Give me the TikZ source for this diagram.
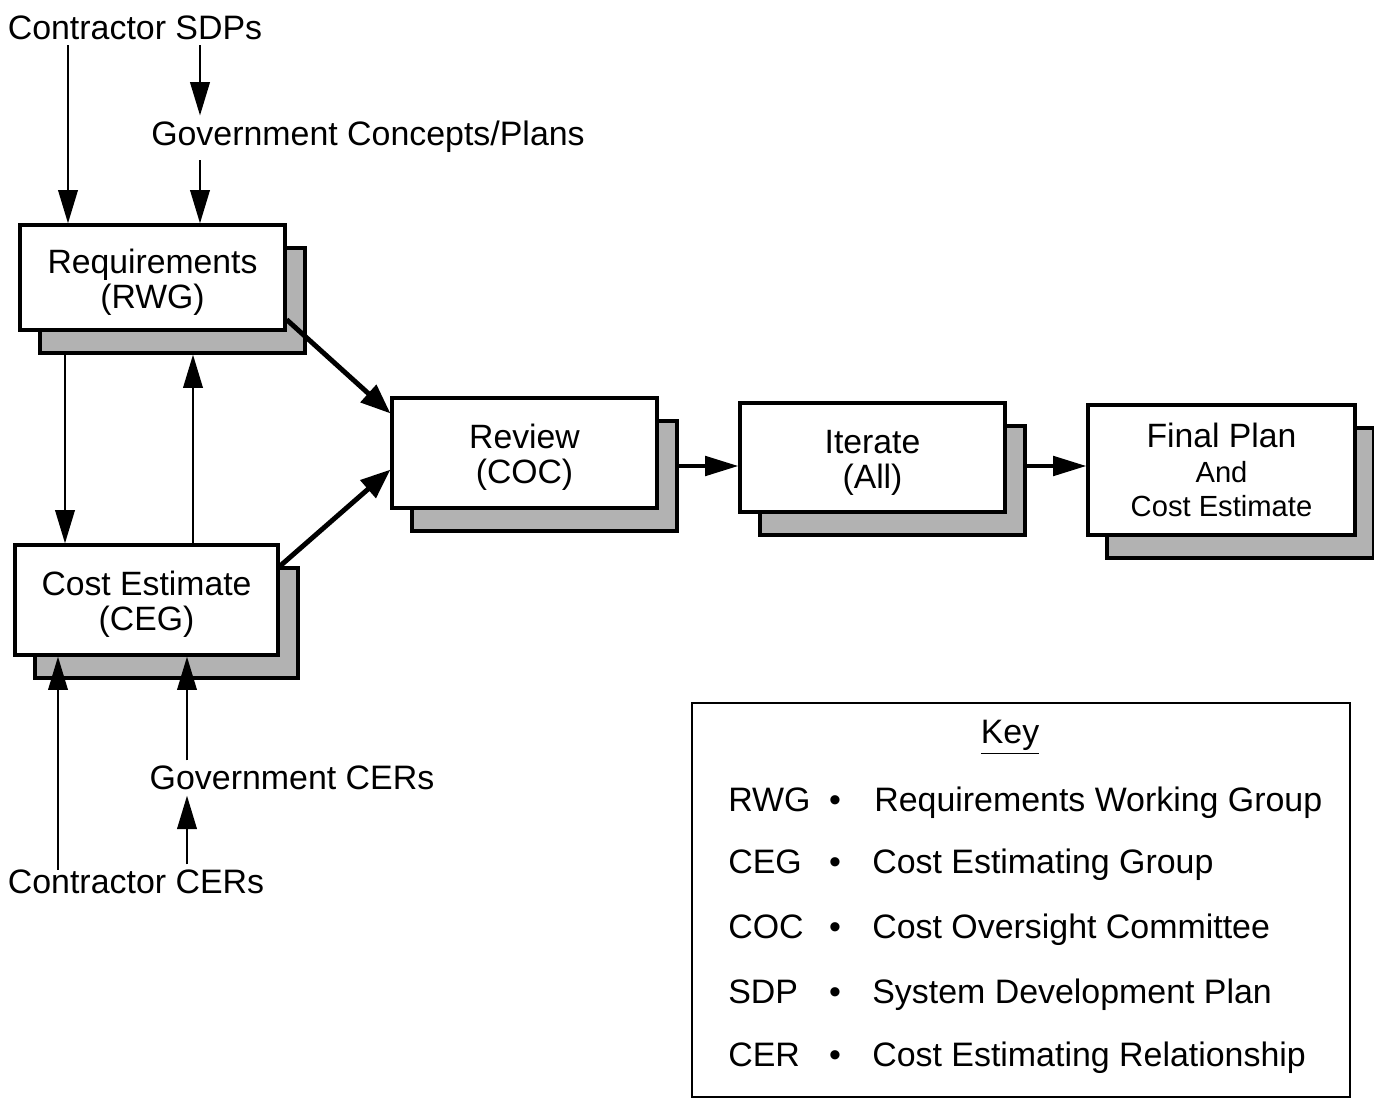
\documentclass[tikz,border=0pt]{standalone}
\usepackage{fontspec}
\setmainfont{Liberation Sans}
\usetikzlibrary{arrows.meta}
\newcommand{\tstrut}{\rule{0pt}{19pt}}
\begin{document}
\begin{tikzpicture}[x=0.02cm, y=-0.02cm,
  box/.style={draw=black, line width=1.8pt, fill=white, inner sep=0pt, align=center,
    font=\fontsize{19.2}{20}\selectfont},
  shade/.style={draw=black, line width=1.8pt, fill=gray!60, inner sep=0pt},
  lbl/.style={font=\fontsize{19.3}{20}\selectfont, inner sep=0pt},
  arr/.style={line width=1.6pt, -{Triangle[length=19pt,width=11pt]}},
  thickarr/.style={line width=2.8pt, -{Triangle[length=17pt,width=13pt]}}
]
\useasboundingbox (0,0) rectangle (1374,1099);

% shadows
\node[shade, minimum width=5.3cm, minimum height=2.1cm] (reqsh) at (172.5,300.5) {};
\node[shade, minimum width=5.26cm, minimum height=2.2cm] (cegsh) at (166.5,623) {};
\node[shade, minimum width=5.3cm, minimum height=2.2cm] (revsh) at (544.5,476) {};
\node[shade, minimum width=5.3cm, minimum height=2.18cm] (itrsh) at (892.5,480.5) {};
\node[shade, minimum width=5.34cm, minimum height=2.6cm] (finsh) at (1240.5,493) {};

% boxes
\node[box, minimum width=5.3cm, minimum height=2.1cm] (req) at (152.5,277.5) {\tstrut Requirements\\(RWG)};
\node[box, minimum width=5.26cm, minimum height=2.2cm] (ceg) at (146.5,600) {\tstrut Cost Estimate\\(CEG)};
\node[box, minimum width=5.3cm, minimum height=2.2cm] (rev) at (524.5,453) {\tstrut Review\\(COC)};
\node[box, minimum width=5.3cm, minimum height=2.18cm] (itr) at (872.5,457.5) {\tstrut Iterate\\(All)};
\node[box, minimum width=5.34cm, minimum height=2.6cm] (fin) at (1221.5,470)
  {Final Plan\\{\fontsize{16.6}{18}\selectfont And}\\[-1pt]{\fontsize{16.6}{18}\selectfont Cost Estimate}};

% labels
\node[lbl] (csdp) at (135,28) {Contractor SDPs};
\node[lbl] (gcp) at (368,137) {Government Concepts/Plans};
\node[lbl] (gcer) at (292,778) {Government CERs};
\node[lbl] (ccer) at (136,882) {Contractor CERs};

% helper coordinates
\coordinate (xa) at (68,0);
\coordinate (xb) at (200,0);
\coordinate (xc) at (65,0);
\coordinate (xd) at (193,0);
\coordinate (xe) at (58,0);
\coordinate (xf) at (187,0);
\coordinate (ya) at (0,466);

% arrows
\draw[arr] ([yshift=-0.1cm]csdp.south -| xa) -- (req.north -| xa);
\draw[arr, shorten >=3pt] ([yshift=-0.1cm]csdp.south -| xb) -- (gcp.north -| xb);
\draw[arr, shorten <=4pt] (gcp.south -| xb) -- (req.north -| xb);
\draw[arr] (reqsh.south -| xc) -- (ceg.north -| xc);
\draw[arr] (ceg.north -| xd) -- (reqsh.south -| xd);
\draw[thickarr] ([yshift=0.24cm]req.south east) -- ([yshift=-0.34cm]rev.north west);
\draw[thickarr] ([yshift=-0.46cm]ceg.north east) -- ([yshift=0.8cm]rev.south west);
\draw[arr, line width=2.4pt] (revsh.east |- ya) -- (itr.west |- ya);
\draw[arr, line width=2.4pt] (itrsh.east |- ya) -- (fin.west |- ya);
\draw[arr] (ccer.north -| xe) -- (ceg.south -| xe);
\draw[arr, shorten <=3pt] (gcer.north -| xf) -- (ceg.south -| xf);
\draw[arr, shorten <=3pt, shorten >=3pt] (ccer.north -| xf) -- (gcer.south -| xf);

% key
\node[draw=black, line width=1.1pt, minimum width=13.16cm, minimum height=7.88cm] (key) at (1021,900) {};
\node[lbl] (keyt) at (1010,737) {\underline{Key}};
\node[lbl, anchor=base west] (a1) at (728,811) {RWG};
\node[lbl, anchor=base] (b1) at (835,811) {\textbullet};
\node[lbl, anchor=base west] (d1) at (874,811) {Requirements Working Group};
\node[lbl, anchor=base west] (a2) at (728,873) {CEG};
\node[lbl, anchor=base] (b2) at (835,873) {\textbullet};
\node[lbl, anchor=base west] (d2) at (872,873) {Cost Estimating Group};
\node[lbl, anchor=base west] (a3) at (728,938) {COC};
\node[lbl, anchor=base] (b3) at (835,938) {\textbullet};
\node[lbl, anchor=base west] (d3) at (872,938) {Cost Oversight Committee};
\node[lbl, anchor=base west] (a4) at (728,1003) {SDP};
\node[lbl, anchor=base] (b4) at (835,1003) {\textbullet};
\node[lbl, anchor=base west] (d4) at (872,1003) {System Development Plan};
\node[lbl, anchor=base west] (a5) at (728,1066) {CER};
\node[lbl, anchor=base] (b5) at (835,1066) {\textbullet};
\node[lbl, anchor=base west] (d5) at (872,1066) {Cost Estimating Relationship};
\end{tikzpicture}
\end{document}
